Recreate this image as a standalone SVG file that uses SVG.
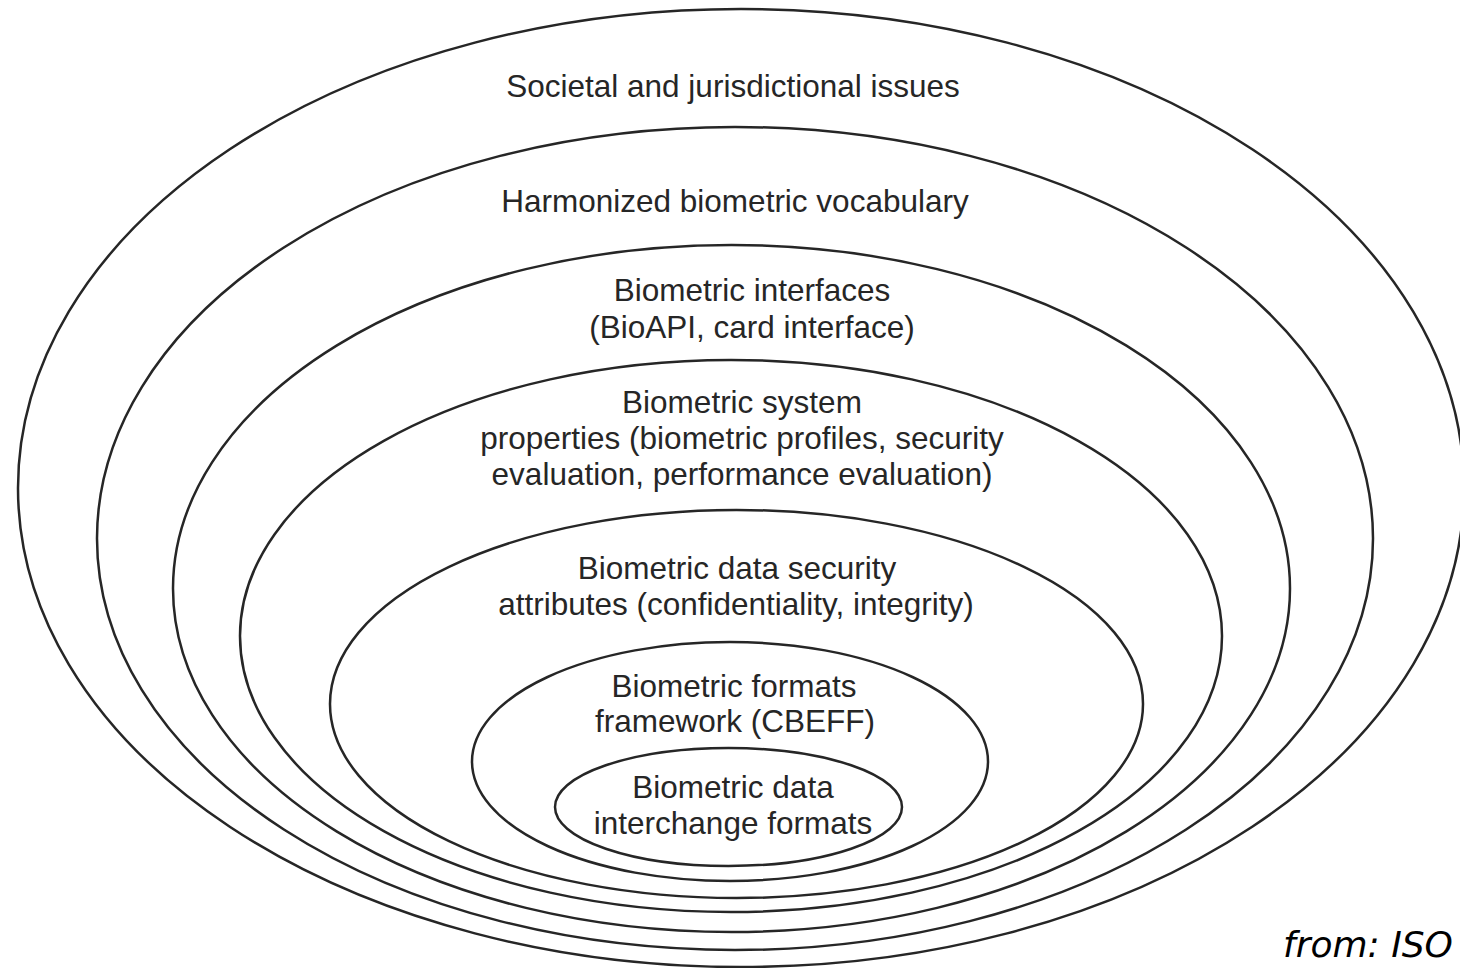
<svg xmlns="http://www.w3.org/2000/svg" width="1460" height="968" viewBox="0 0 1460 968">
<style>
.ring{fill:none;stroke:#262626;stroke-width:2.5}
.lbl{font-family:"Liberation Sans",Arial,sans-serif;font-size:31.5px;fill:#262626;text-anchor:middle}
.src{font-family:"DejaVu Sans","Liberation Sans",sans-serif;font-style:italic;font-size:36px;fill:#000}
</style>
<rect width="1460" height="968" fill="#fff"/>
<g id="n1"><ellipse class="ring" cx="741" cy="488" rx="723" ry="479"/><text class="lbl" x="733" y="97">Societal and jurisdictional issues</text></g>
<g id="n2"><ellipse class="ring" cx="735" cy="538.5" rx="638" ry="411.5"/><text class="lbl" x="735" y="212">Harmonized biometric vocabulary</text></g>
<g id="n3"><ellipse class="ring" cx="731.5" cy="588.5" rx="558.5" ry="343.5"/><text class="lbl" x="752" y="301">Biometric interfaces</text><text class="lbl" x="752" y="338">(BioAPI, card interface)</text></g>
<g id="n4"><ellipse class="ring" cx="731" cy="636" rx="491" ry="276"/><text class="lbl" x="742" y="413">Biometric system</text><text class="lbl" x="742" y="449">properties (biometric profiles, security</text><text class="lbl" x="742" y="485">evaluation, performance evaluation)</text></g>
<g id="n5"><ellipse class="ring" cx="736.5" cy="704" rx="406.5" ry="194"/><text class="lbl" x="737" y="579">Biometric data security</text><text class="lbl" x="736" y="615">attributes (confidentiality, integrity)</text></g>
<g id="n6"><ellipse class="ring" cx="730" cy="761.5" rx="258" ry="119.5"/><text class="lbl" x="734" y="697">Biometric formats</text><text class="lbl" x="735" y="732">framework (CBEFF)</text></g>
<g id="n7"><ellipse class="ring" cx="728.5" cy="807" rx="173.5" ry="59"/><text class="lbl" x="733" y="798">Biometric data</text><text class="lbl" x="733" y="834">interchange formats</text></g>
<g id="connectors"></g>
<text class="src" x="1283" y="957">from: ISO</text>
</svg>
